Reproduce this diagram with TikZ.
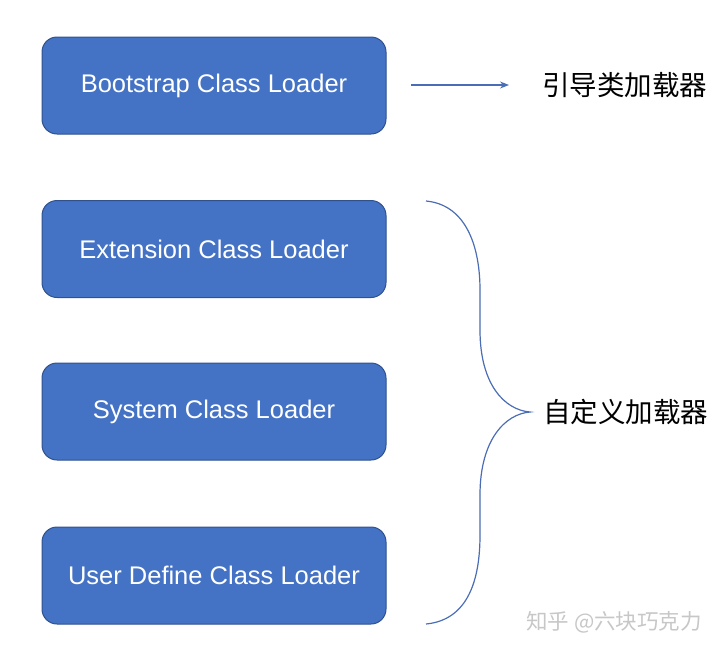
\documentclass[tikz,border=0pt]{standalone}
\usepackage{fontspec}
\setmainfont{Liberation Sans}
\newfontfamily\cjk{Noto Sans CJK SC}
\usetikzlibrary{arrows.meta}
\definecolor{boxblue}{HTML}{4472C4}
\definecolor{boxedge}{HTML}{2F528F}
\definecolor{linecol}{HTML}{4A6DB5}
\begin{document}
\begin{tikzpicture}[x=1pt,y=-1pt,
  loader/.style={draw=boxedge,line width=1pt,fill=boxblue,rounded corners=15pt,
    minimum width=344pt,minimum height=97pt,text=white,font=\fontsize{25.5}{29}\selectfont,inner sep=0pt},
  cjklabel/.style={anchor=west,font=\cjk\fontsize{27.5}{31}\selectfont,inner sep=0pt},
  conn/.style={draw=linecol,line width=1.2pt}]
\useasboundingbox (0,0) rectangle (720,651);
\node[loader] (boot) at (214,85.5) {Bootstrap Class Loader};
\node[loader] (ext) at (214,249) {Extension Class Loader};
\node[loader] (sys) at (214,411.5) {System Class Loader};
\node[loader] (user) at (214,575.5) {User Define Class Loader};
\coordinate (as) at (411,85);
\node[cjklabel] (yd) at (542,85) {引导类加载器};
\draw[conn,-{Stealth[length=9pt,width=7pt]}] (as) -- ([xshift=-33pt]yd.west);
\coordinate (bt) at (426,201);
\coordinate (bb) at (426,624);
\coordinate (tip) at (530,412);
\node[cjklabel] (zd) at (543,412) {自定义加载器};
\draw[conn] (bt) .. controls (468,205) and (480,250) .. (480,290)
  -- (480,330) .. controls (480,385) and (505,410) .. (tip)
  .. controls (505,414) and (480,440) .. (480,495)
  -- (480,535) .. controls (480,580) and (468,620) .. (bb);
\node[anchor=west,inner sep=0pt,text=black!22,font=\cjk\fontsize{21.5}{24}\selectfont] (wm) at (526,622) {知乎 @六块巧克力};
\end{tikzpicture}
\end{document}
